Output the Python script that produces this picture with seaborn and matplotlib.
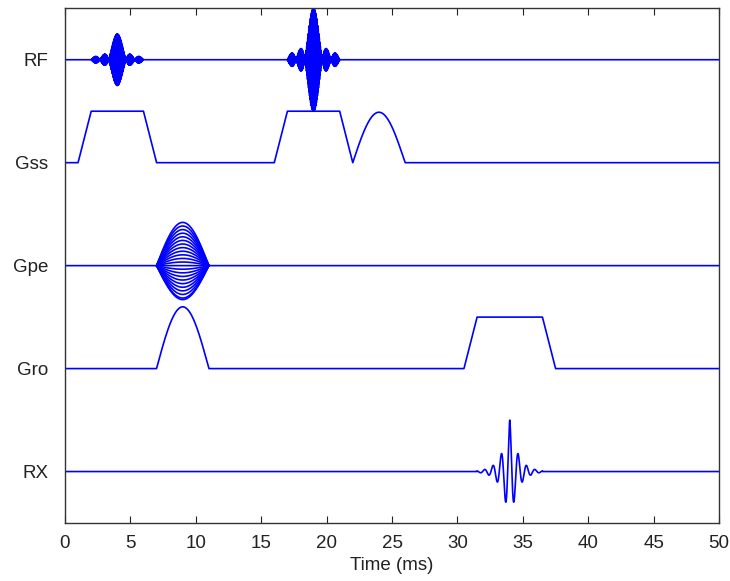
import numpy as np
import pandas as pd
import matplotlib
matplotlib.use("Agg")
import matplotlib.pyplot as plt
import seaborn as sns

# ---- channels (baseline offsets, top to bottom) ----
channels = ["RF", "Gss", "Gpe", "Gro", "RX"]
offsets = [4, 3, 2, 1, 0]

# ---- RF sinc pulses ----
rf_centers = [4.0, 19.0]
rf_amps = [0.25, 0.5]
rf_zero_spacing = 0.667     # ms between sinc zero crossings
rf_half_width = 2.0         # ms (3 zero crossings each side)
rf_carrier = 25.0           # cycles per ms

# ---- Gss: trapezoid breakpoints (time) + refocus lobe ----
gss_trap_times = [[1.0, 2.0, 6.0, 7.0], [16.0, 17.0, 21.0, 22.0]]
gss_trap_amps = [0.5, 0.5]
gss_lobe = [22.0, 26.0, 0.49]   # start, end, amplitude

# ---- Gpe: phase-encode lobes ----
gpe_lobe = [7.0, 11.0]
gpe_amps = [0.42, 0.385, 0.35, 0.315, 0.28, 0.245, 0.21, 0.175, 0.14, 0.105,
            0.07, 0.035, -0.035, -0.07, -0.105, -0.14, -0.175, -0.21,
            -0.245, -0.28, -0.315, -0.33]

# ---- Gro: prephaser lobe + readout trapezoid ----
gro_lobe = [7.0, 11.0, 0.6]
gro_trap_times = [30.5, 31.5, 36.5, 37.5]
gro_trap_amp = 0.5

# ---- RX echo ----
rx_center = 34.0
rx_amp = 0.5
rx_window = [31.5, 36.5]
rx_decay = 0.6
rx_period = 0.64

t = np.arange(0.0, 50.0 + 1e-9, 0.005)


def trap(times, amp):
    return np.interp(t, [0.0] + list(times) + [50.0], [0, 0, amp, amp, 0, 0])


def half_sine(start, end, amp, tt=None):
    tt = t if tt is None else tt
    y = np.zeros_like(tt)
    m = (tt >= start) & (tt <= end)
    y[m] = amp * np.sin(np.pi * (tt[m] - start) / (end - start))
    return y


rows = []


def add(tt, values, trace):
    rows.append(pd.DataFrame({"t": tt, "value": values, "trace": trace}))


# RF
rf = np.zeros_like(t)
for c, a in zip(rf_centers, rf_amps):
    m = np.abs(t - c) <= rf_half_width
    rf[m] += a * np.sinc((t[m] - c) / rf_zero_spacing) * np.cos(2 * np.pi * rf_carrier * (t[m] - c))
add(t, rf + offsets[0], "RF")

# Gss
gss = sum(trap(tt, a) for tt, a in zip(gss_trap_times, gss_trap_amps)) + half_sine(*gss_lobe)
add(t, gss + offsets[1], "Gss")

# Gpe: baseline once, lobes only over their own span
add(t, np.zeros_like(t) + offsets[2], "Gpe_base")
t_lobe = t[(t >= gpe_lobe[0]) & (t <= gpe_lobe[1])]
for i, a in enumerate(gpe_amps):
    add(t_lobe, half_sine(gpe_lobe[0], gpe_lobe[1], a, t_lobe) + offsets[2], f"Gpe{i}")

# Gro
gro = half_sine(*gro_lobe) + trap(gro_trap_times, gro_trap_amp)
add(t, gro + offsets[3], "Gro")

# RX
rx = np.zeros_like(t)
m = (t >= rx_window[0]) & (t <= rx_window[1])
rx[m] = rx_amp * np.exp(-np.abs(t[m] - rx_center) / rx_decay) * np.cos(2 * np.pi * (t[m] - rx_center) / rx_period)
add(t, rx + offsets[4], "RX")

df = pd.concat(rows, ignore_index=True)

sns.set_style("white")
plt.rcParams["font.family"] = ["Liberation Sans", "DejaVu Sans"]

fig = plt.figure(figsize=(7.30, 5.81), dpi=100)
ax = fig.add_axes([0.089, 0.0998, 0.896, 0.886])

sns.lineplot(data=df, x="t", y="value", units="trace", estimator=None, sort=False,
             color="#0000ff", lw=1.2, ax=ax, legend=False)

ax.set_xlim(0, 50)
ax.set_ylim(-0.5, 4.5)
ax.set_xticks(np.arange(0, 51, 5))
ax.set_yticks(offsets)
ax.set_yticklabels(channels)
ax.set_xlabel("Time (ms)", fontsize=13.5, labelpad=4, color="#222222")
ax.set_ylabel("")
ax.tick_params(axis="x", direction="in", top=True, bottom=True, length=4.7,
               labelsize=13.5, pad=8.5, color="#222222", labelcolor="#222222")
ax.tick_params(axis="y", direction="in", left=True, right=False, length=0,
               labelsize=13.5, pad=12, labelcolor="#222222")
for s in ax.spines.values():
    s.set_color("#333333")
    s.set_linewidth(1.0)
    s.set_visible(True)

fig.savefig("out.png", dpi=100)
